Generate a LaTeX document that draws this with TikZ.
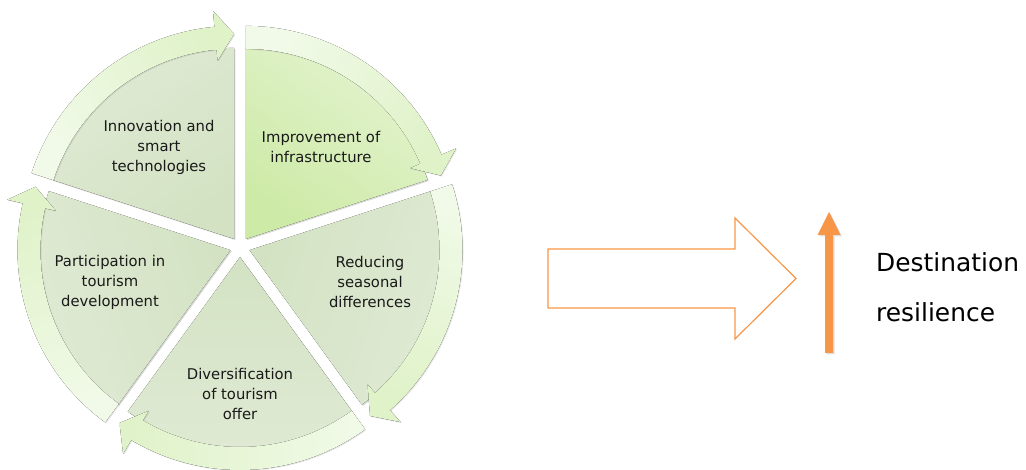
\documentclass[tikz,border=0pt]{standalone}
\usepackage{fontspec}
\setmainfont{DejaVu Sans}
\usetikzlibrary{shadows,calc}
\definecolor{bandtail}{HTML}{F1FAE8}
\definecolor{bandhead}{HTML}{DFF2C8}
\definecolor{segout}{HTML}{E0EAD4}
\definecolor{segin}{HTML}{D3E2C3}
\definecolor{limeout}{HTML}{E3F3CE}
\definecolor{limein}{HTML}{CDEAA6}
\definecolor{orng}{HTML}{F79646}
\begin{document}
\begin{tikzpicture}[x=1pt,y=1pt,
  seg/.style={drop shadow={shadow xshift=1.2pt,shadow yshift=-1.2pt,opacity=.3}},
  band/.style={drop shadow={shadow xshift=1pt,shadow yshift=-1pt,opacity=.2}},
  lbl/.style={font=\fontsize{14.8}{20}\selectfont,align=center,inner sep=0pt,text=black!90},
  big/.style={font=\fontsize{24.9}{30}\selectfont,anchor=base west,inner sep=0pt}]
  \useasboundingbox (0,0) rectangle (1026,469);
  \coordinate (c) at (240,222);
  % segments of the cycle
  \foreach \b/\ci/\co in {54/limein/limeout, -18/segin/segout, -90/segin/segout,
                          -162/segin/segout, 126/segin/segout} {
    \pgfmathsetmacro\sa{\b-90}
    \fill[seg, top color=\co, bottom color=\ci, shading angle=\sa]
      ($(c)+(\b:10)$) -- +(\b+36:191) arc[start angle=\b+36, end angle=\b-36, radius=191] -- cycle;
  }
  % circular arrows
  \foreach \b in {54,-18,-90,-162,126} {
    \pgfmathsetmacro\sa{\b+36}
    \pgfmathsetmacro\ea{\b-36}
    \pgfmathsetmacro\ha{\b-36+5.3}
    \pgfmathsetmacro\sh{\b-180}
    \coordinate (p) at ($(c)+(\b:10)$);
    \fill[band, top color=bandhead, bottom color=bandtail, shading angle=\sh]
      ($(p)+(\sa:213)$) arc[start angle=\sa, end angle=\ha, radius=213]
      -- ($(p)+(\ha:229)$) -- ($(p)+(\ea:205)$) -- ($(p)+(\ha:179)$) -- ($(p)+(\ha:190)$)
      arc[start angle=\ha, end angle=\sa, radius=190] -- cycle;
  }
  \foreach \n/\x/\y/\t in {inno/159/322/{Innovation and\\smart\\technologies},
      impr/321/322/{Improvement of\\infrastructure},
      redu/370/187/{Reducing\\seasonal\\differences},
      dive/240/75/{Diversification\\of tourism\\offer},
      part/110/187/{Participation in\\tourism\\development}}
    \node[lbl] (\n) at (\x,\y) {\t};
  % block arrow and rising arrow
  \draw[orng, line width=1.2pt, line join=miter]
    (548,220) -- (735,220) -- (735,251) -- (796,190.5) -- (735,130) -- (735,161) -- (548,161) -- cycle;
  \fill[orng, drop shadow={shadow xshift=1.5pt,shadow yshift=-1.5pt,opacity=.25}]
    (825,116) -- (833,116) -- (833,234) -- (840.5,234) -- (829,257) -- (817.5,234) -- (825,234) -- cycle;
  \node[big] (dest) at (876,197) {Destination};
  \node[big] (resil) at (876,147) {resilience};
\end{tikzpicture}
\end{document}
